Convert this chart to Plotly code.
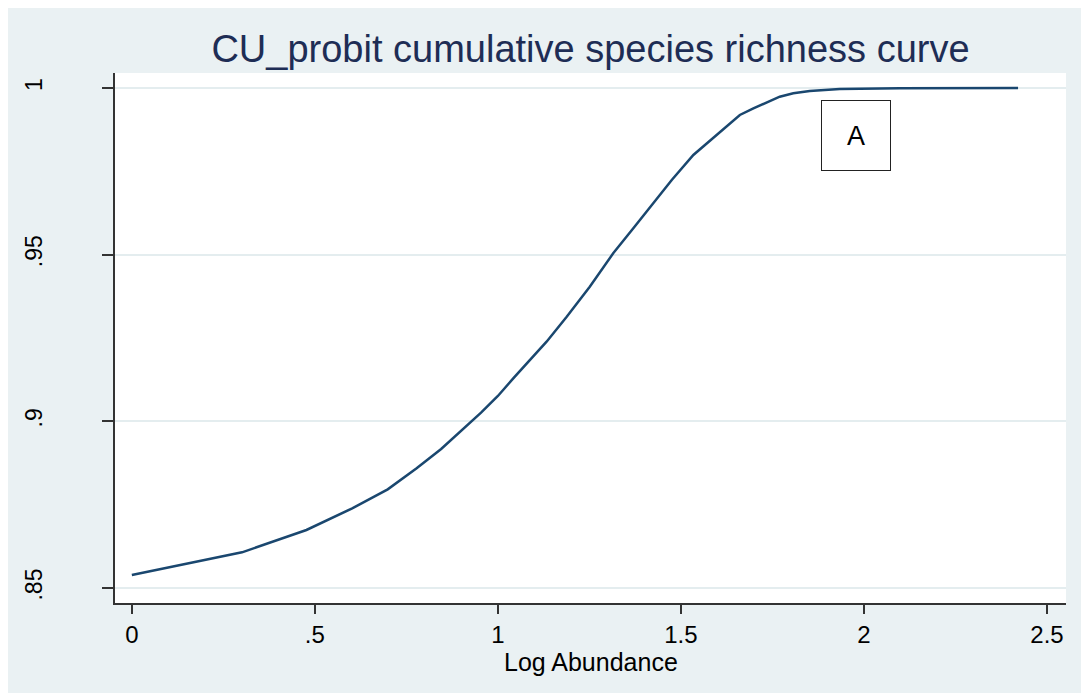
import plotly.graph_objects as go

# Data
log_abundance = [0.000, 0.301, 0.477, 0.602, 0.699, 0.778, 0.845, 0.903, 0.954, 1.000,
                 1.042, 1.133, 1.188, 1.251, 1.315, 1.370, 1.424, 1.475, 1.534, 1.598,
                 1.661, 1.698, 1.770, 1.807, 1.852, 1.934, 2.098, 2.421]
cum_richness = [0.8539, 0.8607, 0.8674, 0.8739, 0.8796, 0.8859, 0.8917, 0.8974, 0.9026, 0.9076,
                0.9129, 0.9239, 0.9314, 0.9404, 0.9504, 0.9579, 0.9652, 0.9724, 0.9799, 0.9859,
                0.9919, 0.9939, 0.9974, 0.9984, 0.9991, 0.9997, 0.9999, 1.0000]

x_ticks = [0, 0.5, 1, 1.5, 2, 2.5]
x_tick_labels = ["0", ".5", "1", "1.5", "2", "2.5"]
y_ticks = [0.85, 0.9, 0.95, 1.0]
y_tick_labels = [".85", ".9", ".95", "1"]

title_text = "CU_probit cumulative species richness curve"
x_title = "Log Abundance"
box_label = "A"

W, H = 1089, 693
ML, MR, MT, MB = 107, 31, 65, 98
BG = "#EAF1F3"
NAVY = "#1A476F"
FONT = "Liberation Sans, Arial, sans-serif"

pw = W - ML - MR
ph = H - MT - MB

fig = go.Figure()
fig.add_trace(go.Scatter(
    x=log_abundance, y=cum_richness, mode="lines",
    line=dict(color=NAVY, width=2.5), showlegend=False, hoverinfo="x+y"))

fig.add_annotation(
    x=1.978, y=0.9857, xref="x", yref="y", text=box_label, showarrow=False,
    font=dict(family=FONT, size=27, color="black"),
    bordercolor="#222222", borderwidth=1, borderpad=0, width=68, height=69,
    align="center", valign="middle")

# x-axis title placed as an annotation for tighter positioning
fig.add_annotation(
    x=0.5, y=-59 / ph, xref="paper", yref="paper", text=x_title, showarrow=False,
    xanchor="center", yanchor="middle",
    font=dict(family=FONT, size=25, color="black"))

fig.update_layout(
    width=W, height=H,
    margin=dict(l=ML, r=MR, t=MT, b=MB, pad=0),
    paper_bgcolor=BG, plot_bgcolor="white",
    font=dict(family=FONT, color="black"),
    title=dict(text=title_text, x=(ML + pw / 2) / W, xanchor="center",
               y=1 - 41 / H, yref="container", yanchor="middle",
               font=dict(family=FONT, size=38, color="#1E2D55")),
    xaxis=dict(range=[-0.046, 2.552], tickvals=x_ticks, ticktext=x_tick_labels,
               showgrid=False, zeroline=False, showline=True, linecolor="#333333", linewidth=1.5,
               ticks="outside", ticklen=9, tickwidth=1.5, tickcolor="#333333",
               tickfont=dict(family=FONT, size=24, color="black")),
    yaxis=dict(range=[0.8455, 1.0045], tickvals=y_ticks, ticktext=y_tick_labels,
               showgrid=True, gridcolor="#E4EDEF", gridwidth=2, zeroline=False,
               showline=True, linecolor="#333333", linewidth=1.5,
               ticks="outside", ticklen=11, tickwidth=1.5, tickcolor="#333333",
               tickangle=-90, ticklabelstandoff=51,
               tickfont=dict(family=FONT, size=23, color="black")),
)

fig.write_html("out.html")
